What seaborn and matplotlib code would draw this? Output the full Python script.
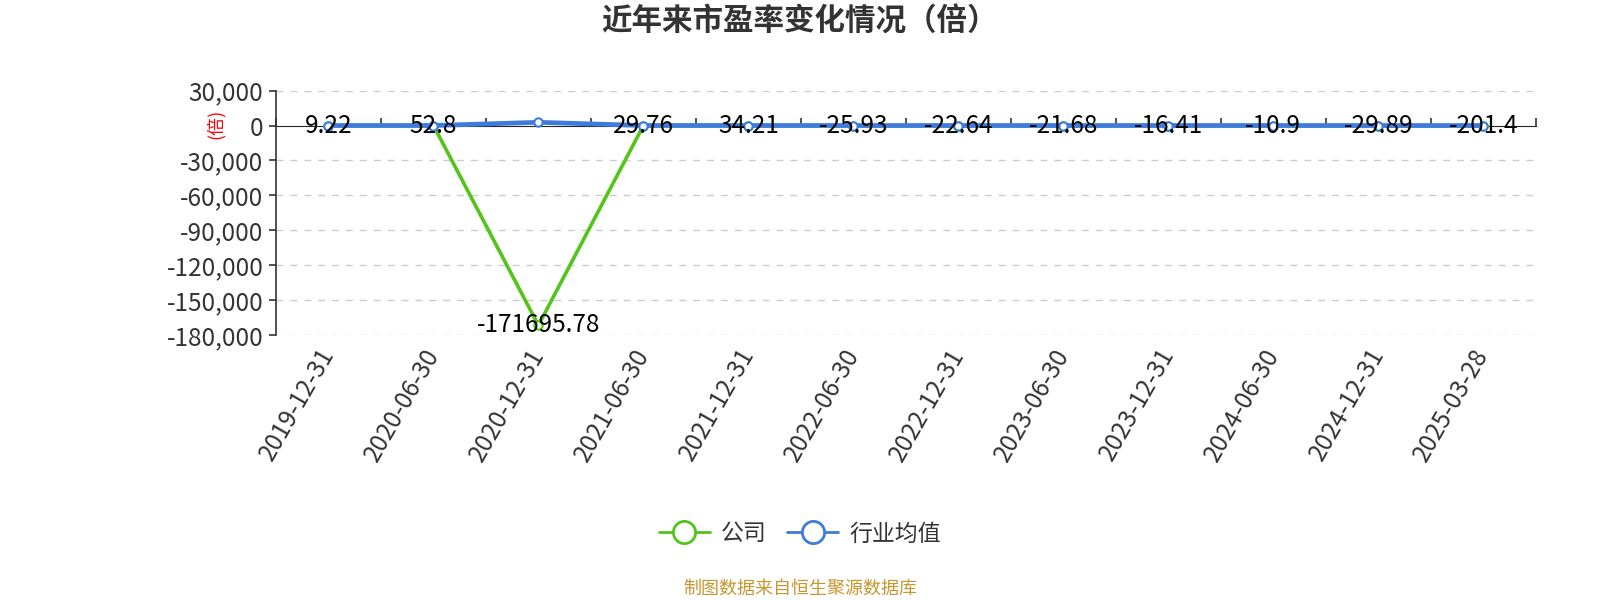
import numpy as np
import pandas as pd
import seaborn as sns
import matplotlib.pyplot as plt
from matplotlib.lines import Line2D
from matplotlib.ticker import FuncFormatter

sns.set_style("white")
plt.rcParams['font.family'] = ['Noto Sans CJK SC', 'DejaVu Sans']

# data
dates = ["2019-12-31", "2020-06-30", "2020-12-31", "2021-06-30", "2021-12-31", "2022-06-30",
         "2022-12-31", "2023-06-30", "2023-12-31", "2024-06-30", "2024-12-31", "2025-03-28"]
company = [9.22, 52.8, -171695.78, 29.76, 34.21, -25.93, -22.64, -21.68, -16.41, -10.9, -29.89, -201.4]
industry = [35, 40, 2800, 45, 40, 30, 25, 28, 25, 22, 25, 30]
yticks = [30000, 0, -30000, -60000, -90000, -120000, -150000, -180000]

green = "#52c41a"
blue = "#3d7bdc"

df = pd.DataFrame({"idx": np.arange(len(dates)), "date": dates,
                   "company": company, "industry": industry})

fig = plt.figure(figsize=(16, 6), dpi=100)
ax = fig.add_axes([0.1725, 0.4417, 0.7873, 0.4072])

sns.lineplot(data=df, x="idx", y="company", ax=ax, color=green, linewidth=2.6,
             marker="o", markersize=6, markerfacecolor="white", markeredgecolor=green,
             markeredgewidth=1.5, sort=False, zorder=3)
sns.lineplot(data=df, x="idx", y="industry", ax=ax, color=blue, linewidth=3.4,
             marker="o", markersize=6, markerfacecolor="white", markeredgecolor=blue,
             markeredgewidth=1.5, sort=False, zorder=4)

for i, v in enumerate(company):
    ax.text(i, v, f"{v:g}" if abs(v) < 1000 else f"{v:.2f}", ha="center", va="center",
            fontsize=17.5, color="black", zorder=5)

ax.set_xlim(-0.5, len(dates) - 0.5)
ax.set_ylim(-180000, 30000)
ax.set_yticks(yticks)
ax.yaxis.set_major_formatter(FuncFormatter(lambda v, p: f"{int(v):,}"))
for t in yticks:
    if t != 0:
        ax.axhline(t, color="#cccccc", linestyle=(0, (5, 5)), linewidth=1, zorder=1)

ax.set_xticks(df["idx"])
ax.set_xticklabels(dates, rotation=60, ha="right", va="center", rotation_mode="anchor")
ax.tick_params(axis="x", length=0, pad=11, labelsize=17.5, labelcolor="#333333")
ax.tick_params(axis="y", length=5, width=1.2, color="#333333", labelsize=17.5,
               labelcolor="#333333", left=True, pad=4)

for s in ["top", "right", "bottom"]:
    ax.spines[s].set_visible(False)
ax.spines["left"].set_color("#333333")
ax.spines["left"].set_linewidth(1.2)

# x axis line at zero with ticks between categories
zero_pos = (0 - (-180000)) / 210000
sec = ax.secondary_xaxis(zero_pos)
sec.set_xticks(np.arange(-0.5, len(dates), 1))
sec.set_xticklabels([])
sec.tick_params(axis="x", direction="out", length=6, width=1.2, color="#333333")
sec.spines["bottom"].set_color("#333333")
sec.spines["bottom"].set_linewidth(1.2)
ax.set_xlabel("")
ax.set_ylabel("")

fig.text(215 / 1600, 1 - 124 / 600, "(倍)", color="red", rotation=90, fontsize=13,
         ha="center", va="center")

fig.suptitle("近年来市盈率变化情况（倍）", y=1 - 22 / 600, va="center",
             fontsize=22, fontweight="bold", color="#333333")

handles = [Line2D([0], [0], color=green, lw=2, marker="o", markersize=16,
                  markerfacecolor="white", markeredgecolor=green, markeredgewidth=2),
           Line2D([0], [0], color=blue, lw=2, marker="o", markersize=16,
                  markerfacecolor="white", markeredgecolor=blue, markeredgewidth=2)]
leg = fig.legend(handles, ["公司", "行业均值"], loc="center", bbox_to_anchor=(0.5, 1 - 534 / 600),
                 ncol=2, frameon=False, fontsize=16.5, handlelength=2.2, columnspacing=0.9,
                 handletextpad=0.5)
for t in leg.get_texts():
    t.set_color("#333333")

fig.text(0.5, 1 - 589 / 600, "制图数据来自恒生聚源数据库", ha="center", va="center",
         fontsize=13, color="#c8962e")

fig.savefig("out.png", dpi=100)
